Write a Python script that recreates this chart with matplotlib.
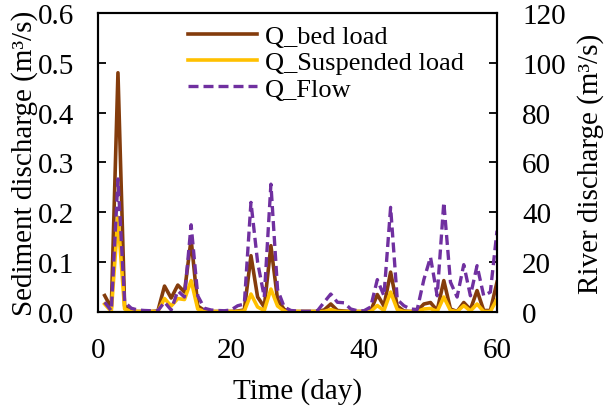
import matplotlib
matplotlib.use("Agg")
import matplotlib.pyplot as plt
import numpy as np

days = list(range(1, 61))

bed_load = [0.033, 0.008, 0.480, 0.012, 0.002, 0.001, 0.001, 0.001, 0.002, 0.052,
            0.028, 0.054, 0.040, 0.146, 0.012, 0.003, 0.001, 0.001, 0.001, 0.001,
            0.002, 0.004, 0.113, 0.030, 0.010, 0.133, 0.025, 0.005, 0.001, 0.001,
            0.001, 0.001, 0.001, 0.004, 0.016, 0.003, 0.002, 0.001, 0.001, 0.001,
            0.002, 0.035, 0.012, 0.080, 0.012, 0.002, 0.001, 0.002, 0.016, 0.019,
            0.003, 0.063, 0.006, 0.001, 0.019, 0.005, 0.043, 0.003, 0.003, 0.060]

suspended_load = [0.016, 0.001, 0.190, 0.006, 0.001, 0.001, 0.001, 0.001, 0.001, 0.027,
                  0.012, 0.027, 0.025, 0.063, 0.006, 0.001, 0.001, 0.001, 0.001, 0.001,
                  0.001, 0.002, 0.036, 0.010, 0.003, 0.046, 0.012, 0.002, 0.001, 0.001,
                  0.001, 0.001, 0.001, 0.001, 0.005, 0.001, 0.001, 0.001, 0.001, 0.001,
                  0.001, 0.013, 0.003, 0.040, 0.005, 0.001, 0.001, 0.001, 0.006, 0.007,
                  0.001, 0.030, 0.003, 0.001, 0.013, 0.002, 0.016, 0.001, 0.001, 0.026]

flow = [3.9, 0.5, 53.4, 4.0, 1.5, 0.8, 0.6, 0.5, 0.5, 4.0,
        0.8, 8.5, 6.0, 35.0, 6.5, 1.5, 0.8, 0.6, 0.5, 0.8,
        2.5, 3.2, 44.0, 20.0, 6.0, 51.3, 9.0, 2.0, 0.6, 0.4,
        0.3, 0.3, 0.5, 3.9, 7.2, 3.9, 3.7, 1.2, 0.5, 0.5,
        2.0, 13.0, 6.5, 42.0, 5.0, 2.5, 1.2, 1.0, 13.0, 22.0,
        6.5, 44.0, 12.0, 6.0, 19.0, 6.5, 18.6, 6.5, 8.0, 32.6]

x_ticks = [0, 20, 40, 60]
left_ticks = [0.0, 0.1, 0.2, 0.3, 0.4, 0.5, 0.6]
right_ticks = [0, 20, 40, 60, 80, 100, 120]

plt.rcParams['font.family'] = ['Liberation Serif', 'DejaVu Serif']
FS = 21
LFS = 19

fig = plt.figure(figsize=(6.05, 4.10), dpi=100)
ax = fig.add_axes([0.162, 0.2366, 0.6595, 0.7293])
ax2 = ax.twinx()

c_bed = '#843C0C'
c_sus = '#FFC000'
c_flow = '#7030A0'

l1, = ax.plot(days, bed_load, color=c_bed, lw=2.6, label='Q_bed load', zorder=2)
l2, = ax.plot(days, suspended_load, color=c_sus, lw=2.6, label='Q_Suspended load', zorder=3)
l3, = ax2.plot(days, flow, color=c_flow, lw=2.4, ls=(0, (3.0, 1.5)), label='Q_Flow')

ax.set_xlim(0, 60)
ax.set_ylim(0, 0.6)
ax2.set_ylim(0, 120)
ax.set_xticks(x_ticks)
ax.set_yticks(left_ticks)
ax.set_yticklabels([f'{v:.1f}' for v in left_ticks])
ax2.set_yticks(right_ticks)

for a in (ax, ax2):
    for s in a.spines.values():
        s.set_linewidth(1.5)
    a.tick_params(labelsize=FS, direction='in', width=1.3, length=6)
ax.tick_params(axis='x', length=0, pad=18)
ax.tick_params(axis='y', pad=17)
ax2.tick_params(axis='y', pad=18)

ax.set_xlabel('Time (day)', fontsize=FS, labelpad=10)
ax.set_ylabel('Sediment discharge (m³/s)', fontsize=FS, labelpad=0)
ax2.set_ylabel('River discharge (m³/s)', fontsize=FS, labelpad=8)

leg = ax.legend(handles=[l1, l2, l3], loc='upper left', bbox_to_anchor=(0.213, 0.978),
                frameon=False, fontsize=LFS, handlelength=2.6, handletextpad=0.3,
                labelspacing=0.1, borderaxespad=0.0, borderpad=0.2)
leg.set_zorder(10)

fig.savefig('out.png', dpi=100)
